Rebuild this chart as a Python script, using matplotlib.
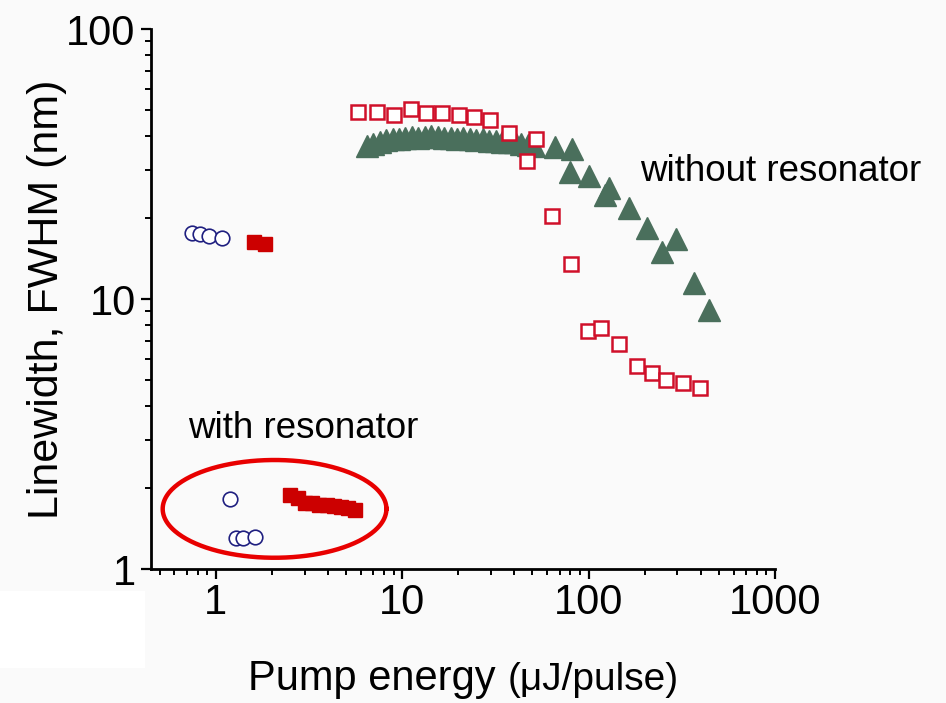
import numpy as np
import matplotlib
matplotlib.use('Agg')
import matplotlib.pyplot as plt
from matplotlib.ticker import FixedLocator, LogLocator, NullFormatter, FuncFormatter
from matplotlib.offsetbox import TextArea, HPacker, AnchoredOffsetbox
from matplotlib.patches import Rectangle

sans = ['Liberation Sans', 'DejaVu Sans']
plt.rcParams['font.family'] = sans

# with resonator: open circles / filled squares
circ_hi_x = [0.75, 0.82, 0.92, 1.08]
circ_hi_y = [17.5, 17.4, 17.1, 16.8]
sq_hi_x = [1.6, 1.85]
sq_hi_y = [16.3, 16.0]
circ_lo_x = [1.19, 1.28, 1.41, 1.63]
circ_lo_y = [1.82, 1.30, 1.30, 1.31]
sq_lo_x = [2.5, 2.75, 3.0, 3.3, 3.6, 3.95, 4.3, 4.7, 5.1, 5.6]
sq_lo_y = [1.88, 1.84, 1.76, 1.75, 1.73, 1.72, 1.71, 1.70, 1.68, 1.66]

# without resonator: open squares
open_x = [5.8, 7.3, 9.1, 11.2, 13.4, 16.3, 20.3, 24.2, 29.8, 37.3, 46.5, 52.0,
          64, 81, 99, 117, 145, 181, 218, 259, 323, 394]
open_y = [49.3, 49.3, 48.0, 50.5, 48.8, 48.8, 48.0, 47.2, 46.0, 41.2, 32.4, 39.1,
          20.3, 13.5, 7.6, 7.8, 6.8, 5.65, 5.3, 5.0, 4.9, 4.7]

# without resonator: triangles
tri_x = [6.5, 7.0, 7.6, 8.2, 8.9, 9.6, 10.4, 11.3, 12.2, 13.2, 14.3, 15.5, 16.8,
         18.2, 19.7, 21.3, 23.1, 25.0, 27.1, 29.3, 31.8, 34.4, 37.3, 40.4, 43.7,
         47.4, 51.3, 66, 80, 82, 100, 123, 128, 164, 207, 249, 293, 366, 445]
tri_y = [37.0, 37.6, 38.2, 38.8, 39.0, 39.3, 39.5, 39.8, 39.6, 39.8, 40.0, 39.7,
         39.6, 39.5, 39.3, 39.4, 39.0, 38.8, 39.0, 38.6, 38.5, 38.3, 38.2, 38.0,
         37.6, 37.2, 36.9, 36.6, 29.5, 35.9, 28.6, 24.3, 25.8, 21.7, 18.3, 14.9,
         16.7, 11.5, 9.1]

xticks = [1, 10, 100, 1000]
yticks = [1, 10, 100]

fig = plt.figure(figsize=(9.46, 7.03), dpi=100, facecolor='#fafafa')
fig.patches.append(Rectangle((0, 0.05), 0.153, 0.11, transform=fig.transFigure,
                             facecolor='white', edgecolor='none', zorder=0))
ax = fig.add_axes([0.1596, 0.1906, 0.6596, 0.7681])
ax.set_facecolor('none')

ax.plot(tri_x, tri_y, '^', ms=15.5, color='#4a6f5c', mec='#4a6f5c', zorder=2)
ax.plot(open_x, open_y, 's', ms=10.5, mfc='white', mec='#d0102a', mew=1.8, zorder=3)
ax.plot(circ_hi_x, circ_hi_y, 'o', ms=10.5, mfc='white', mec='#1f1f80', mew=1.2, zorder=3)
ax.plot(circ_lo_x, circ_lo_y, 'o', ms=10.5, mfc='white', mec='#1f1f80', mew=1.2, zorder=3)
ax.plot(sq_hi_x, sq_hi_y, 's', ms=10.5, color='#cc0000', zorder=3)
ax.plot(sq_lo_x, sq_lo_y, 's', ms=10.5, color='#cc0000', zorder=3)

# ellipse round the "with resonator" points, drawn in log space
t = np.linspace(0, 2 * np.pi, 300)
cx, cy, a, b = np.log10(2.07), np.log10(1.67), 0.60, 0.181
ax.plot(10 ** (cx + a * np.cos(t)), 10 ** (cy + b * np.sin(t)),
        color='#e80000', lw=3.2, zorder=4, clip_on=False)

ax.set_xscale('log')
ax.set_yscale('log')
ax.set_xlim(0.45, 1000)
ax.set_ylim(1, 100)

ax.xaxis.set_major_locator(FixedLocator(xticks))
ax.yaxis.set_major_locator(FixedLocator(yticks))
ax.xaxis.set_minor_locator(LogLocator(base=10, subs=np.arange(2, 10)))
ax.yaxis.set_minor_locator(LogLocator(base=10, subs=np.arange(2, 10)))
fmt = FuncFormatter(lambda v, p: '%d' % v)
ax.xaxis.set_major_formatter(fmt)
ax.yaxis.set_major_formatter(fmt)
ax.xaxis.set_minor_formatter(NullFormatter())
ax.yaxis.set_minor_formatter(NullFormatter())

for s in ['top', 'right']:
    ax.spines[s].set_visible(False)
for s in ['left', 'bottom']:
    ax.spines[s].set_linewidth(2)
ax.tick_params(which='major', direction='out', length=7, width=1.6,
               labelsize=30, pad=4)
ax.tick_params(which='minor', direction='out', length=4, width=1.4)
ax.tick_params(axis='x', which='major', pad=3)

ax.set_ylabel('Linewidth, FWHM (nm)', fontsize=31)
ax.yaxis.set_label_coords(-0.135, 0.5)

# x label with smaller units
lab = HPacker(children=[TextArea('Pump energy ', textprops=dict(fontsize=30, family=sans)),
                        TextArea('(\u03bcJ/pulse)', textprops=dict(fontsize=28, family=sans))],
              align='baseline', pad=0, sep=0)
box = AnchoredOffsetbox(loc='lower center', child=lab, pad=0, frameon=False,
                        bbox_to_anchor=(0.49, 0.005), bbox_transform=fig.transFigure,
                        borderpad=0)
fig.add_artist(box)

ax.text(0.708, 3.06, 'with resonator', fontsize=26.5, ha='left', va='baseline')
ax.text(190, 27.4, 'without resonator', fontsize=26.5, ha='left', va='baseline')

fig.savefig('out.png', dpi=100, facecolor=fig.get_facecolor())
